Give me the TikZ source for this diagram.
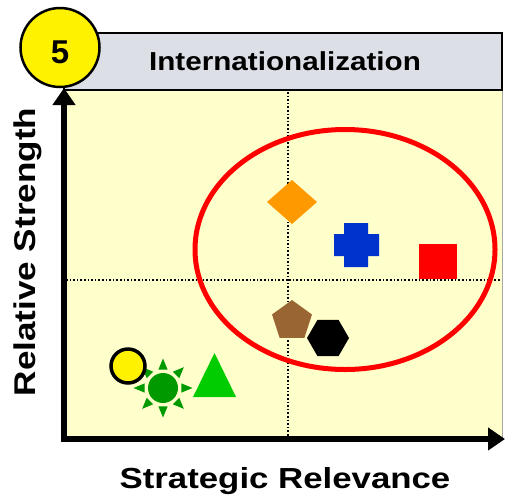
\documentclass[tikz,border=0pt]{standalone}
\usepackage{fontspec}
\setmainfont{Liberation Sans}
\usetikzlibrary{arrows.meta}
\definecolor{hdrgray}{HTML}{DCDFE6}
\definecolor{plotyel}{HTML}{FFFFCC}
\definecolor{mkorange}{HTML}{FF9900}
\definecolor{mkblue}{HTML}{0033CC}
\definecolor{mkbrown}{HTML}{996633}
\definecolor{mkdgreen}{HTML}{009900}
\definecolor{mkgreen}{HTML}{00CC00}
\begin{document}
\begin{tikzpicture}[x=1pt,y=-1pt,
  lbl/.style={font=\bfseries, inner sep=0pt, anchor=base},
  guide/.style={black, line width=1.6pt, dotted},
  axis/.style={line width=6pt, -{Triangle[width=22pt,length=17pt]}},
  mk/.style={draw=none}]
\useasboundingbox (0,0) rectangle (505,501);
% plot area and header
\fill[plotyel] (64,90) rectangle (502,439);
\draw[gray!70, line width=1pt] (502,90) -- (502,439);
\draw[fill=hdrgray, line width=1.6pt] (64,33) rectangle (502,90);
\node[lbl, font=\fontsize{26}{30}\selectfont\bfseries] (title) at (285,70) {\scalebox{1.14}[1]{Internationalization}};
% guides
\draw[guide] (288,92) -- (288,437);
\draw[guide] (66,280) -- (500,280);
% ellipse
\draw[red, line width=5pt] (345,249.5) ellipse [x radius=150, y radius=120];
% markers
\fill[mkorange] (292,180) -- (317,202) -- (292,224) -- (267,202) -- cycle;
\fill[mkblue] (344,223) -- (368,223) -- (368,234) -- (379,234) -- (379,256) -- (368,256) -- (368,267) -- (344,267) -- (344,256) -- (334,256) -- (334,234) -- (344,234) -- cycle;
\fill[red] (419,244) rectangle (457,279);
\fill[mkbrown] (292,321) +(-90:21) -- +(-18:21) -- +(54:21) -- +(126:21) -- +(198:21) -- cycle;
\fill[black] (328,338) +(0:21) -- +(60:21) -- +(120:21) -- +(180:21) -- +(240:21) -- +(300:21) -- cycle;
\fill[mkgreen] (193,397) -- (236,397) -- (214.5,353) -- cycle;
% sun
\fill[mkdgreen] (163,388) circle (15);
\foreach \a in {0,45,...,315}{
  \fill[mkdgreen] (163,388) +(\a:29.5) -- +(\a+14:19) -- +(\a-14:19) -- cycle;
}
\draw[black, fill=yellow, line width=3.5pt] (128,366) circle (17);
% axes
\draw[axis] (64,442) -- (64,88);
\draw[axis] (61,439) -- (505,439);
% number badge
\draw[black, fill=yellow, line width=2.5pt] (60,47.5) circle (39.5);
\node[lbl, font=\fontsize{33}{38}\selectfont\bfseries] (num) at (60,63) {5};
% axis labels
\node[lbl, font=\fontsize{29}{34}\selectfont\bfseries] (xlab) at (285,488) {\scalebox{1.2}[1]{Strategic Relevance}};
\node[lbl, rotate=90, font=\fontsize{30}{34}\selectfont\bfseries] (ylab) at (35,252) {\scalebox{1.17}[1]{Relative Strength}};
\end{tikzpicture}
\end{document}
